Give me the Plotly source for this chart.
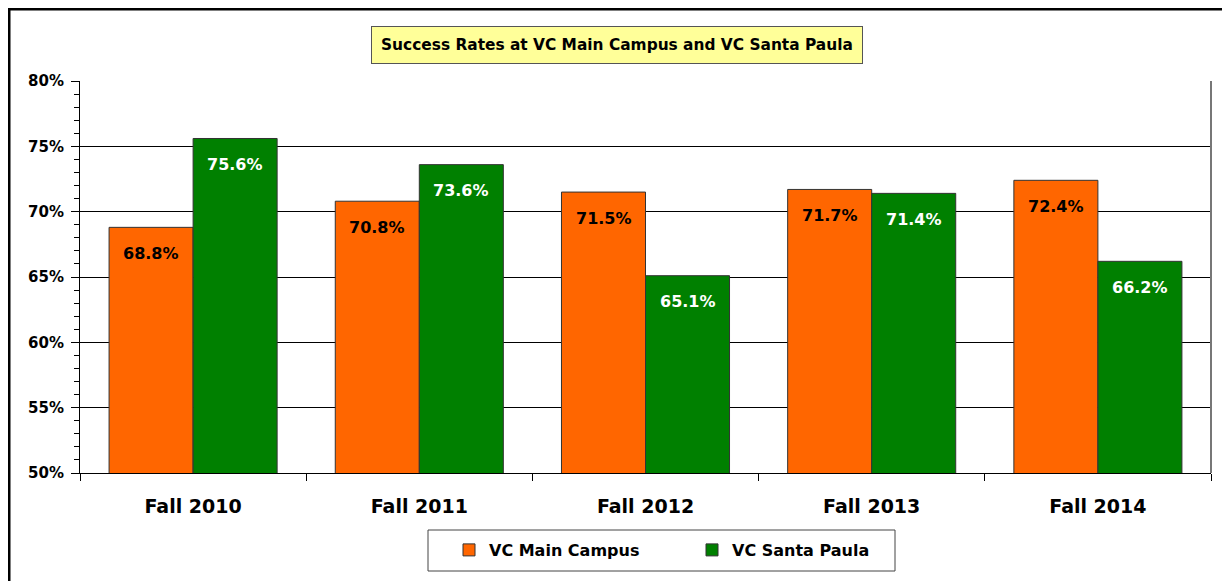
import plotly.graph_objects as go

categories = ["Fall 2010", "Fall 2011", "Fall 2012", "Fall 2013", "Fall 2014"]
main_campus = [68.8, 70.8, 71.5, 71.7, 72.4]
santa_paula = [75.6, 73.6, 65.1, 71.4, 66.2]
series_names = ["VC Main Campus", "VC Santa Paula"]
y_ticks = [50, 55, 60, 65, 70, 75, 80]
y_tick_labels = [f"{v}%" for v in y_ticks]

ORANGE = "#FF6600"
GREEN = "#008000"
FONT = "DejaVu Sans"

# page body has an 8px margin: the figure starts at page (8, 8)
OFF = 8
W, H = 1230 - OFF, 581 - OFF
L, R, T, B = 80 - OFF, 19, 81 - OFF, 108
pw, ph = W - L - R, H - T - B

def px_x(page_px):
    return (page_px - OFF - L) / pw

def px_y(page_py):
    return (H - B - (page_py - OFF)) / ph

fig = go.Figure()
fig.add_trace(go.Bar(
    x=categories, y=main_campus, name=f"<b>{series_names[0]}</b>",
    marker=dict(color=ORANGE, line=dict(color="#333333", width=1)),
))
fig.add_trace(go.Bar(
    x=categories, y=santa_paula, name=f"<b>{series_names[1]}</b>",
    marker=dict(color=GREEN, line=dict(color="#333333", width=1)),
))

annotations = []
for cat, v in zip(categories, main_campus):
    annotations.append(dict(x=cat, y=v, xref="x", yref="y", text=f"<b>{v:.1f}%</b>",
                            showarrow=False, xshift=-42, yshift=-26,
                            font=dict(family=FONT, size=16, color="black")))
for cat, v in zip(categories, santa_paula):
    annotations.append(dict(x=cat, y=v, xref="x", yref="y", text=f"<b>{v:.1f}%</b>",
                            showarrow=False, xshift=42, yshift=-26,
                            font=dict(family=FONT, size=16, color="white")))

annotations.append(dict(
    x=px_x(617), y=px_y(45), xref="paper", yref="paper",
    text="<b>Success Rates at VC Main Campus and VC Santa Paula</b>",
    showarrow=False, bgcolor="#FFFF99", bordercolor="#555555", borderwidth=1,
    borderpad=9, font=dict(family=FONT, size=15.4, color="black"),
    xanchor="center", yanchor="middle",
))

shapes = [
    # outer chart frame (left and top edges visible)
    dict(type="line", xref="paper", yref="paper", x0=px_x(9), x1=px_x(9),
         y0=px_y(600), y1=px_y(9), line=dict(color="black", width=3)),
    dict(type="line", xref="paper", yref="paper", x0=px_x(8), x1=px_x(1240),
         y0=px_y(9), y1=px_y(9), line=dict(color="black", width=3)),
    # legend box
    dict(type="rect", xref="paper", yref="paper", x0=px_x(428), x1=px_x(895),
         y0=px_y(571), y1=px_y(530), line=dict(color="#444444", width=1)),
    # right plot border
    dict(type="line", xref="paper", yref="paper", x0=1, x1=1, y0=0, y1=1,
         line=dict(color="#777777", width=2)),
]

fig.update_layout(
    width=W, height=H,
    margin=dict(l=L, r=R, t=T, b=B),
    paper_bgcolor="white", plot_bgcolor="white",
    barmode="group", bargap=0.257, bargroupgap=0,
    font=dict(family=FONT, color="black"),
    showlegend=True,
    legend=dict(orientation="h", x=px_x(449), xanchor="left", y=px_y(550),
                yanchor="middle", font=dict(family=FONT, size=16, color="black"),
                entrywidth=198, entrywidthmode="pixels", itemclick=False,
                bgcolor="rgba(0,0,0,0)"),
    annotations=annotations,
    shapes=shapes,
)
fig.update_xaxes(
    tickvals=categories, ticktext=[f"<b>{c}</b>" for c in categories],
    showline=True, linecolor="black", linewidth=1, mirror=False,
    ticks="outside", tickson="boundaries", ticklen=7, tickcolor="black",
    tickfont=dict(family=FONT, size=19, color="black"),
    ticklabelstandoff=16,
    showgrid=False,
)
fig.update_yaxes(
    range=[50, 80], tickvals=y_ticks, ticktext=[f"<b>{t}</b>" for t in y_tick_labels],
    showline=True, linecolor="black", linewidth=1,
    ticks="outside", ticklen=8, tickcolor="black",
    minor=dict(dtick=1, ticks="outside", ticklen=5, tickcolor="black", showgrid=False),
    showgrid=True, gridcolor="black", gridwidth=1,
    tickfont=dict(family=FONT, size=15, color="black"),
    ticklabelstandoff=4,
    zeroline=False,
)
fig.write_html("out.html")
